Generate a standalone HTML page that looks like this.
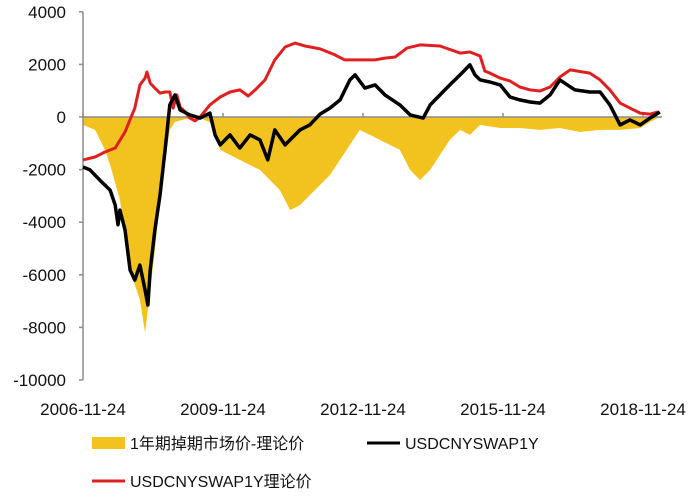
<!DOCTYPE html>
<html><head><meta charset="utf-8"><style>
html,body{margin:0;padding:0;background:#fff;}
svg{display:block;font-family:"Liberation Sans","Noto Sans CJK SC",sans-serif;}
</style></head><body>
<svg id="chart" width="695" height="500" viewBox="0 0 695 500">
<g id="area"></g>
<g id="axes"></g>
<g id="lines"></g>
<g>
  <rect x="92" y="437" width="33" height="12" fill="#f2c31f"/>
  <text x="130" y="449" font-size="16" fill="#111">1年期掉期市场价-理论价</text>
  <line x1="367" y1="443" x2="400" y2="443" stroke="#000" stroke-width="3"/>
  <text x="405" y="449" font-size="16" fill="#111">USDCNYSWAP1Y</text>
  <line x1="92" y1="481" x2="125" y2="481" stroke="#e02020" stroke-width="3"/>
  <text x="130" y="487" font-size="16" fill="#111">USDCNYSWAP1Y理论价</text>
</g>
</svg>
<script>
const yTicks=[4000,2000,0,-2000,-4000,-6000,-8000,-10000];
const xTickYears=[2006.9,2009.9,2012.9,2015.9,2018.9];
const xTickLabels=["2006-11-24","2009-11-24","2012-11-24","2015-11-24","2018-11-24"];
const theoryYears=[2006.90,2007.16,2007.37,2007.59,2007.80,2008.01,2008.12,2008.23,2008.27,2008.34,2008.44,2008.55,2008.66,2008.76,2008.83,2008.91,2008.98,2009.09,2009.19,2009.30,2009.41,2009.62,2009.84,2010.05,2010.26,2010.44,2010.59,2010.80,2011.01,2011.23,2011.44,2011.66,2011.98,2012.30,2012.51,2012.73,2013.16,2013.37,2013.59,2013.84,2014.12,2014.55,2014.98,2015.19,2015.41,2015.51,2015.62,2015.84,2016.05,2016.26,2016.48,2016.69,2016.91,2017.12,2017.34,2017.76,2017.98,2018.19,2018.41,2018.62,2018.84,2019.05,2019.22];
const theoryValues=[-1630,-1520,-1330,-1180,-570,340,1220,1480,1710,1290,1100,910,950,950,340,840,380,190,-40,-150,0,460,760,950,1030,800,1030,1410,2170,2660,2810,2700,2590,2360,2170,2170,2170,2240,2280,2620,2740,2700,2430,2470,2320,1750,1670,1480,1370,1140,1030,990,1140,1520,1790,1670,1410,1030,530,340,150,110,190];
const swapYears=[2006.90,2007.05,2007.26,2007.48,2007.59,2007.65,2007.69,2007.80,2007.91,2008.01,2008.12,2008.23,2008.29,2008.34,2008.44,2008.55,2008.66,2008.76,2008.87,2008.98,2009.19,2009.41,2009.62,2009.73,2009.84,2010.05,2010.26,2010.48,2010.69,2010.86,2011.01,2011.23,2011.55,2011.76,2011.98,2012.19,2012.41,2012.62,2012.73,2012.94,2013.16,2013.37,2013.69,2013.91,2014.19,2014.34,2014.55,2014.76,2014.98,2015.19,2015.30,2015.41,2015.62,2015.84,2016.05,2016.26,2016.48,2016.69,2016.91,2017.12,2017.44,2017.76,2017.98,2018.19,2018.41,2018.62,2018.84,2019.05,2019.26];
const swapValues=[-1900,-2010,-2400,-2780,-3350,-4100,-3540,-4290,-5820,-6200,-5630,-6580,-7150,-5820,-4290,-2970,-1250,460,840,270,80,-40,150,-680,-1060,-680,-1180,-680,-870,-1630,-490,-1060,-490,-300,110,340,650,1410,1600,1100,1220,840,460,80,-40,460,840,1220,1600,1980,1600,1410,1330,1220,760,650,570,530,840,1410,1030,950,950,460,-300,-110,-300,-40,190];
const spreadYears=[2006.90,2007.16,2007.37,2007.48,2007.69,2007.91,2008.12,2008.23,2008.34,2008.44,2008.55,2008.66,2008.76,2008.87,2009.09,2009.41,2009.62,2009.84,2010.26,2010.69,2011.12,2011.34,2011.55,2011.76,2012.19,2012.62,2012.83,2013.05,2013.26,2013.69,2013.91,2014.12,2014.34,2014.55,2014.76,2014.98,2015.19,2015.41,2015.84,2016.26,2016.69,2017.12,2017.55,2017.98,2018.41,2018.84,2019.05,2019.26];
const spreadValues=[-300,-490,-1250,-1820,-3150,-5820,-6960,-8200,-6580,-5060,-3150,-1630,-490,-190,-80,-40,-200,-1250,-1630,-2010,-2780,-3540,-3350,-2970,-2210,-1060,-490,-680,-870,-1250,-2010,-2400,-2010,-1440,-870,-490,-680,-300,-420,-420,-490,-420,-570,-490,-490,-420,-190,0];

const NS="http://www.w3.org/2000/svg";
function xs(yr){return 83+(yr-2006.9)*(560/12);}
function ys(v){return 117-v*(263/10000);}
function mk(tag,attrs,parent){const e=document.createElementNS(NS,tag);for(const k in attrs)e.setAttribute(k,attrs[k]);parent.appendChild(e);return e;}
const axes=document.getElementById('axes'),area=document.getElementById('area'),lines=document.getElementById('lines');

// area
let d="M"+xs(spreadYears[0])+","+ys(0);
spreadYears.forEach((y,i)=>{d+=" L"+xs(y).toFixed(1)+","+ys(spreadValues[i]).toFixed(1);});
d+=" L"+xs(spreadYears[spreadYears.length-1])+","+ys(0)+" Z";
const ap=mk('path',{d:d,fill:"#f2c31f"},area);



// y axis
const ya=mk('line',{x1:83,y1:ys(4000),x2:83,y2:ys(-10000),stroke:"#8c8c8c","stroke-width":1.5},axes);


yTicks.forEach(v=>{
  const t=mk('line',{x1:79,y1:ys(v),x2:83,y2:ys(v),stroke:"#8c8c8c","stroke-width":1.5},axes);
  
  
  const l=mk('text',{x:66,y:ys(v)+6,"text-anchor":"end","font-size":17,fill:"#111"},axes);
  l.textContent=String(v);
  
  
});
// x axis at zero
const xa=mk('line',{x1:83,y1:ys(0),x2:662,y2:ys(0),stroke:"#8c8c8c","stroke-width":1.5},axes);


xTickYears.forEach((yr,i)=>{
  const t=mk('line',{x1:xs(yr),y1:ys(0)-4,x2:xs(yr),y2:ys(0),stroke:"#8c8c8c","stroke-width":1.5},axes);
  
  
  const l=mk('text',{x:xs(yr),y:415,"text-anchor":"middle","font-size":17,fill:"#111"},axes);
  l.textContent=xTickLabels[i];
  
  
});
function line(years,vals,color,w){
  let p="";years.forEach((y,i)=>{p+=(i?" L":"M")+xs(y).toFixed(1)+","+ys(vals[i]).toFixed(1);});
  return mk('path',{d:p,fill:"none",stroke:color,"stroke-width":w,"stroke-linejoin":"round"},lines);
}
const rl=line(theoryYears,theoryValues,"#e02020",3);


const bl=line(swapYears,swapValues,"#000",3.5);


</script>
</body></html>
